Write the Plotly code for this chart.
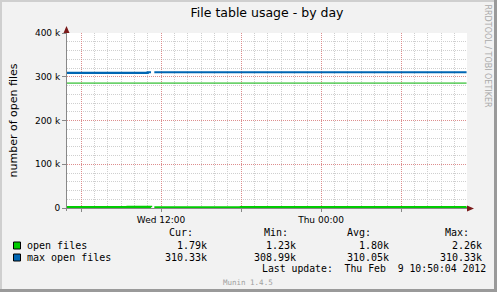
import plotly.graph_objects as go

# ---------------- data ----------------
series_names = ["open files", "max open files"]
series_colors = ["#00CC00", "#0066B3"]

of_times = ["2012-02-08 04:50", "2012-02-08 07:00", "2012-02-08 09:30", "2012-02-08 11:15",
            "2012-02-08 11:20", "2012-02-08 11:30", "2012-02-08 18:00", "2012-02-09 02:00",
            "2012-02-09 10:55"]
open_files = [1800, 1750, 2260, 1500, None, 1230, 1900, 1700, 1790]

mof_times = ["2012-02-08 04:50", "2012-02-08 11:00", "2012-02-08 11:15", "2012-02-08 11:20",
             "2012-02-08 11:30", "2012-02-09 10:55"]
max_open_files = [308990, 310330, 310330, None, 310330, 310330]

warn_times = ["2012-02-08 04:50", "2012-02-09 10:55"]
warn_values = [285500, 285500]

x_range = ["2012-02-08 04:57", "2012-02-09 10:57"]
x_major_vals = ["2012-02-08 06:00", "2012-02-08 12:00", "2012-02-08 18:00",
                "2012-02-09 00:00", "2012-02-09 06:00"]
x_major_text = ["", "Wed 12:00", "", "Thu 00:00", ""]

y_tick_vals = [0, 100000, 200000, 300000, 400000]
y_tick_text = ["0", "100 k", "200 k", "300 k", "400 k"]

stat_headers = ["Cur:", "Min:", "Avg:", "Max:"]
stat_cur = ["1.79k", "310.33k"]
stat_min = ["1.23k", "308.99k"]
stat_avg = ["1.80k", "310.05k"]
stat_max = ["2.26k", "310.33k"]

title = "File table usage - by day"
y_title = "number of open files"
last_update = "Last update:  Thu Feb  9 10:50:04 2012"
footer = "Munin 1.4.5"
side_text = "RRDTOOL / TOBI OETIKER"

# ---------------- layout helpers (pixel -> paper) ----------------
W, H = 497, 292
L, R, T, B = 67, 467, 33, 208


def px(x):
    return (x - L) / (R - L)


def py(y):
    return (B - y) / (B - T)


fig = go.Figure()

fig.add_trace(go.Scatter(x=warn_times, y=warn_values, mode="lines",
                         line=dict(color="#00B000", width=1), hoverinfo="skip",
                         showlegend=False))
fig.add_trace(go.Scatter(x=mof_times, y=max_open_files, mode="lines", line_shape="hv",
                         line=dict(color=series_colors[1], width=2.2), connectgaps=False,
                         name=series_names[1], showlegend=False))
fig.add_trace(go.Scatter(x=of_times, y=open_files, mode="lines", line_shape="hv",
                         line=dict(color=series_colors[0], width=2.4), connectgaps=False,
                         name=series_names[0], showlegend=False))

MONO = "DejaVu Sans Mono"
SANS = "DejaVu Sans"
major_grid = "rgba(225,120,120,0.75)"
minor_grid = "#cfcfcf"

fig.update_layout(
    width=W, height=H,
    margin=dict(l=L, r=W - R, t=T, b=H - B),
    paper_bgcolor="#F2F2F2",
    plot_bgcolor="#FFFFFF",
    font=dict(family=SANS, size=9, color="#000"),
    showlegend=False,
    title=dict(text=title, x=px(267), xref="paper", xanchor="center",
               y=1 - 13 / H, yanchor="middle",
               font=dict(family=SANS, size=12.5, color="#000")),
    xaxis=dict(
        type="date", range=x_range,
        tickmode="array", tickvals=x_major_vals, ticktext=x_major_text,
        showgrid=True, gridcolor=major_grid, griddash="1px,1px", gridwidth=1,
        minor=dict(dtick=3600000, showgrid=True, gridcolor=minor_grid,
                   griddash="1px,1px", gridwidth=1, ticks=""),
        ticks="outside", ticklen=3, tickcolor="#888",
        showline=False, zeroline=False,
        tickfont=dict(family=SANS, size=9, color="#000"),
        fixedrange=True,
    ),
    yaxis=dict(
        range=[0, 400000],
        tickmode="array", tickvals=y_tick_vals, ticktext=y_tick_text,
        showgrid=True, gridcolor=major_grid, griddash="1px,1px", gridwidth=1,
        minor=dict(dtick=20000, showgrid=True, gridcolor=minor_grid,
                   griddash="1px,1px", gridwidth=1, ticks=""),
        ticks="outside", ticklen=4, tickcolor="#888",
        showline=False, zeroline=False,
        tickfont=dict(family=SANS, size=9, color="#000"),
        fixedrange=True,
    ),
)

shapes = []
# axis lines
shapes.append(dict(type="line", xref="paper", yref="paper", x0=px(L), x1=px(470),
                   y0=py(B + 0.5), y1=py(B + 0.5), line=dict(color="#888", width=1)))
shapes.append(dict(type="line", xref="paper", yref="paper", x0=px(L - 0.5), x1=px(L - 0.5),
                   y0=py(B + 3), y1=py(30), line=dict(color="#888", width=1)))
# arrows
arrow_col = "#7A1A1A"
shapes.append(dict(type="path", xref="paper", yref="paper",
                   path=f"M {px(L-3.5)} {py(33)} L {px(L+2.5)} {py(33)} L {px(L-0.5)} {py(26)} Z",
                   fillcolor=arrow_col, line=dict(width=0)))
shapes.append(dict(type="path", xref="paper", yref="paper",
                   path=f"M {px(467)} {py(B-2.5)} L {px(467)} {py(B+3.5)} L {px(474)} {py(B+0.5)} Z",
                   fillcolor=arrow_col, line=dict(width=0)))
# frame
shapes.append(dict(type="rect", xref="paper", yref="paper", x0=px(0), x1=px(2), y0=py(H), y1=py(0),
                   fillcolor="#CFCFCF", line=dict(width=0)))
shapes.append(dict(type="rect", xref="paper", yref="paper", x0=px(0), x1=px(W), y0=py(2), y1=py(0),
                   fillcolor="#CFCFCF", line=dict(width=0)))
shapes.append(dict(type="rect", xref="paper", yref="paper", x0=px(W - 3), x1=px(W), y0=py(H), y1=py(0),
                   fillcolor="#9A9A9A", line=dict(width=0)))
shapes.append(dict(type="rect", xref="paper", yref="paper", x0=px(0), x1=px(W), y0=py(H), y1=py(H - 3),
                   fillcolor="#9A9A9A", line=dict(width=0)))
# legend squares
for i, c in enumerate(series_colors):
    y0 = 242 + 12 * i
    shapes.append(dict(type="rect", xref="paper", yref="paper", x0=px(13.5), x1=px(20.5),
                       y0=py(y0 + 7), y1=py(y0), fillcolor=c, line=dict(color="#000", width=1)))
fig.update_layout(shapes=shapes)

ann = []


def text(x, y, s, anchor="left", size=10, family=MONO, color="#000", angle=0):
    ann.append(dict(x=px(x), y=py(y), xref="paper", yref="paper", text=s, showarrow=False,
                    xanchor=anchor, yanchor="middle", textangle=angle,
                    font=dict(family=family, size=size, color=color), borderpad=0))


# y-axis title
text(12.5, 120, y_title, anchor="center", size=11, family=SANS, angle=-90)
# stats header
header_right = [194, 289, 372, 470]
for h, xr in zip(stat_headers, header_right):
    text(xr, 232, h, anchor="right")
val_right = [208, 297, 390, 483]
for i, name in enumerate(series_names):
    yy = 245 + 12 * i
    text(26, yy, name, anchor="left")
    for col, xr in zip([stat_cur, stat_min, stat_avg, stat_max], val_right):
        text(xr, yy, col[i], anchor="right")
text(487, 268.5, last_update.replace("  ", "&nbsp; "), anchor="right", size=9.8)
text(248, 282, footer, anchor="center", size=7.5, color="#A0A0A0")
text(487.5, 56, side_text, anchor="center", size=8, family=SANS, color="#AAAAAA", angle=90)

fig.update_layout(annotations=ann)

fig.write_html("out.html")
